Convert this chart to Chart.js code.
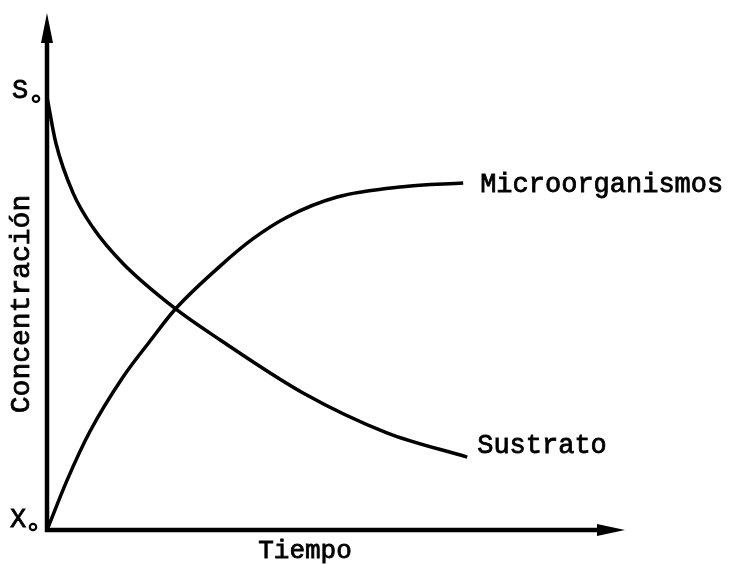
<!DOCTYPE html>
<html>
<head>
<meta charset="utf-8">
<script src="https://cdn.jsdelivr.net/npm/chart.js@4/dist/chart.umd.min.js"></script>
<style>
  html, body { margin: 0; padding: 0; background: #fff; }
  #wrap { width: 736px; height: 568px; }
</style>
</head>
<body>
<div id="wrap"><canvas id="chartCrecimiento"></canvas></div>
<script>
// tiempo (unidades relativas) y concentracion (relativa)
const tiempoSustrato = [0, 1.5, 4.5, 8.0, 13.1, 22.1, 29.9, 44.3, 58.8, 72.7];
const sustrato = [83.8, 75.0, 65.2, 58.4, 51.6, 42.9, 36.8, 26.5, 18.8, 14.1];

const tiempoMicro = [0, 3.5, 7.4, 13.1, 17.8, 22.1, 29.9, 35.6, 41.5, 50.2, 61.6, 72.0];
const microorganismos = [0, 9.7, 19.0, 29.5, 36.5, 42.6, 51.0, 56.3, 60.5, 64.4, 66.4, 67.1];

const etiquetas = {
  ejeX: 'Tiempo',
  ejeY: 'Concentración',
  sustrato: 'Sustrato',
  micro: 'Microorganismos',
  s0: 'S',
  x0: 'X'
};

const FONT = '"Liberation Mono", "Courier New", monospace';

function puntos(xs, ys) {
  return xs.map((x, i) => ({ x: x, y: ys[i] }));
}

// texto con un trazo fino encima, para el aspecto de maquina de escribir
function texto(ctx, s, x, y) {
  ctx.fillText(s, x, y);
  ctx.strokeText(s, x, y);
}

const ejesYTextos = {
  id: 'ejesYTextos',
  afterDatasetsDraw(chart) {
    const { ctx, chartArea, scales } = chart;
    const x0 = chartArea.left, y0 = chartArea.bottom;
    ctx.save();
    ctx.fillStyle = '#000';
    ctx.strokeStyle = '#000';
    ctx.lineWidth = 4.5;
    ctx.lineCap = 'butt';

    // eje y
    ctx.beginPath();
    ctx.moveTo(x0, y0 + 2);
    ctx.lineTo(x0, chartArea.top + 25);
    ctx.stroke();
    ctx.beginPath();
    ctx.moveTo(x0, chartArea.top);
    ctx.lineTo(x0 - 6, chartArea.top + 30);
    ctx.lineTo(x0 + 6, chartArea.top + 30);
    ctx.closePath();
    ctx.fill();

    // eje x
    ctx.beginPath();
    ctx.moveTo(x0 - 2, y0);
    ctx.lineTo(chartArea.right - 25, y0);
    ctx.stroke();
    ctx.beginPath();
    ctx.moveTo(chartArea.right, y0);
    ctx.lineTo(chartArea.right - 28, y0 - 6);
    ctx.lineTo(chartArea.right - 28, y0 + 6);
    ctx.closePath();
    ctx.fill();

    // textos
    ctx.lineWidth = 0.8;
    ctx.textBaseline = 'middle';
    ctx.font = '27px ' + FONT;
    ctx.textAlign = 'left';
    const xs = scales.x, ys = scales.y;
    texto(ctx, etiquetas.micro,
      xs.getPixelForValue(tiempoMicro[tiempoMicro.length - 1]) + 17,
      ys.getPixelForValue(microorganismos[microorganismos.length - 1]) + 2);
    texto(ctx, etiquetas.sustrato,
      xs.getPixelForValue(tiempoSustrato[tiempoSustrato.length - 1]) + 10,
      ys.getPixelForValue(sustrato[sustrato.length - 1]) - 11);

    ctx.textAlign = 'center';
    ctx.font = '26px ' + FONT;
    texto(ctx, etiquetas.ejeX, 305, y0 + 21);

    ctx.save();
    ctx.translate(22, 304);
    ctx.rotate(-Math.PI / 2);
    ctx.font = '28px ' + FONT;
    texto(ctx, etiquetas.ejeY, 0, 0);
    ctx.restore();

    // S0 y X0
    ctx.textAlign = 'left';
    ctx.font = '27px ' + FONT;
    const yS = ys.getPixelForValue(sustrato[0]) - 6;
    texto(ctx, etiquetas.s0, 12, yS);
    texto(ctx, etiquetas.x0, 10, y0 - 10);
    ctx.lineWidth = 2.2;
    ctx.beginPath();
    ctx.arc(36, yS + 8, 3.2, 0, Math.PI * 2);
    ctx.stroke();
    ctx.beginPath();
    ctx.arc(33, y0 - 3, 3.2, 0, Math.PI * 2);
    ctx.stroke();
    ctx.restore();
  }
};

document.addEventListener('DOMContentLoaded', function () {
  const ctx = document.getElementById('chartCrecimiento').getContext('2d');

  new Chart(ctx, {
    type: 'line',
    data: {
      datasets: [{
        label: etiquetas.sustrato,
        data: puntos(tiempoSustrato, sustrato),
        borderColor: '#000',
        borderWidth: 3.5,
        pointRadius: 0,
        cubicInterpolationMode: 'monotone',
        fill: false
      }, {
        label: etiquetas.micro,
        data: puntos(tiempoMicro, microorganismos),
        borderColor: '#000',
        borderWidth: 3.5,
        pointRadius: 0,
        cubicInterpolationMode: 'monotone',
        fill: false
      }]
    },
    options: {
      responsive: true,
      maintainAspectRatio: false,
      animation: false,
      layout: {
        padding: { left: 47, right: 111, top: 13, bottom: 38 }
      },
      plugins: {
        legend: { display: false },
        tooltip: { enabled: false }
      },
      scales: {
        x: { type: 'linear', min: 0, max: 100, display: false },
        y: { min: 0, max: 100, display: false }
      }
    },
    plugins: [ejesYTextos]
  });
});
</script>
</body>
</html>
